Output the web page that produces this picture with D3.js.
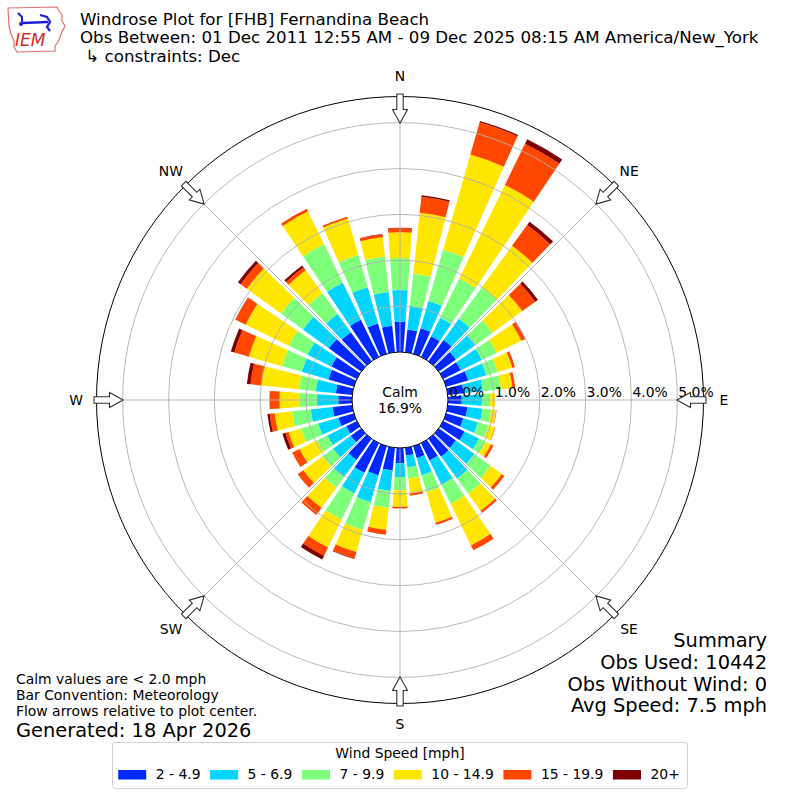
<!DOCTYPE html>
<html>
<head>
<meta charset="utf-8">
<script src="https://cdn.jsdelivr.net/npm/d3@7"></script>
<style>
  body { margin: 0; background: #fff; }
  text { font-family: "DejaVu Sans", sans-serif; }
</style>
</head>
<body>
<div id="chart"></div>
<script>
// Windrose for FHB, December obs
const directions = [0, 10, 20, 30, 40, 50, 60, 70, 80, 90, 100, 110, 120, 130, 140, 150, 160, 170,
    180, 190, 200, 210, 220, 230, 240, 250, 260, 270, 280, 290, 300, 310, 320, 330, 340, 350];
const speedBins = ["2 - 4.9", "5 - 6.9", "7 - 9.9", "10 - 14.9", "15 - 19.9", "20+"];
const binColors = ["#0028ff", "#00d4ff", "#7dff7a", "#ffe600", "#ff4700", "#7f0000"];

// percent of obs per direction, one array per speed bin
const speed2to5 = [0.66, 0.50, 0.58, 0.50, 0.57, 0.46, 0.43, 0.50, 0.35, 0.30, 0.43, 0.39, 0.52, 0.46, 0.48, 0.42, 0.27, 0.17,
    0.33, 0.50, 0.66, 0.72, 0.57, 0.28, 0.26, 0.35, 0.43, 0.30, 0.36, 0.58, 0.62, 0.87, 0.78, 0.90, 0.69, 0.58];
const speed5to7 = [0.69, 0.52, 0.62, 0.45, 0.57, 0.52, 0.51, 0.41, 0.42, 0.44, 0.33, 0.33, 0.35, 0.50, 0.59, 0.59, 0.39, 0.26,
    0.30, 0.45, 0.61, 0.50, 0.46, 0.48, 0.46, 0.46, 0.48, 0.47, 0.44, 0.60, 0.58, 0.70, 0.49, 0.90, 0.82, 0.74];
const speed7to10 = [0.70, 0.70, 1.16, 0.95, 0.85, 0.47, 0.36, 0.26, 0.40, 0.18, 0.19, 0.24, 0.16, 0.44, 0.41, 0.46, 0.38, 0.24,
    0.29, 0.37, 0.63, 0.63, 0.28, 0.28, 0.25, 0.39, 0.41, 0.37, 0.37, 0.45, 0.45, 0.59, 0.56, 0.93, 0.73, 0.78];
const speed10to15 = [0.56, 1.34, 2.16, 2.27, 1.12, 0.80, 0.60, 0.33, 0.25, 0.11, 0.11, 0.15, 0.13, 0.30, 0.46, 1.01, 0.70, 0.33,
    0.36, 0.48, 0.50, 0.68, 0.55, 0.52, 0.42, 0.28, 0.38, 0.44, 0.82, 0.75, 1.05, 0.92, 0.62, 0.80, 0.83, 0.42];
const speed15to20 = [0.09, 0.35, 0.73, 1.00, 0.56, 0.35, 0.08, 0.06, 0.06, 0.00, 0.01, 0.01, 0.06, 0.07, 0.05, 0.12, 0.05, 0.05,
    0.04, 0.11, 0.15, 0.20, 0.19, 0.15, 0.18, 0.07, 0.11, 0.22, 0.24, 0.33, 0.24, 0.17, 0.08, 0.06, 0.04, 0.06];
const speed20plus = [0.01, 0.03, 0.03, 0.11, 0.09, 0.07, 0.01, 0.00, 0.00, 0.00, 0.00, 0.00, 0.00, 0.00, 0.00, 0.00, 0.00, 0.00,
    0.00, 0.00, 0.01, 0.09, 0.00, 0.00, 0.00, 0.07, 0.05, 0.00, 0.08, 0.08, 0.01, 0.07, 0.05, 0.00, 0.00, 0.01];

const ringTicks = [0, 1, 2, 3, 4, 5];
const compassAngles = [0, 45, 90, 135, 180, 225, 270, 315];
const compassLabels = ["N", "NE", "E", "SE", "S", "SW", "W", "NW"];

const titleLines = [
    "Windrose Plot for [FHB] Fernandina Beach",
    "Obs Between: 01 Dec 2011 12:55 AM - 09 Dec 2025 08:15 AM America/New_York",
    " \u21b3 constraints: Dec"
];
const footLines = ["Calm values are < 2.0 mph", "Bar Convention: Meteorology", "Flow arrows relative to plot center."];
const summaryLines = ["Summary", "Obs Used: 10442", "Obs Without Wind: 0", "Avg Speed: 7.5 mph"];
const calmPct = 16.9;

const width = 800, height = 800;
const cx = 400, cy = 400;
const calmR = 48, outerR = 303.5;
const barHalf = 4; // degrees

const svg = d3.select("#chart")
    .append("svg")
    .attr("width", width)
    .attr("height", height);

const g = svg.append("g").attr("transform", `translate(${cx},${cy})`);

const r = d3.scaleLinear()
    .domain([0, 5.57])
    .range([calmR, outerR]);

const series = [speed2to5, speed5to7, speed7to10, speed10to15, speed15to20, speed20plus];
const table = directions.map((dir, i) => {
    const row = { dir };
    speedBins.forEach((b, j) => { row[b] = series[j][i]; });
    return row;
});

const stacked = d3.stack().keys(speedBins)(table);

const arc = d3.arc()
    .innerRadius(d => r(d[0]))
    .outerRadius(d => r(d[1]))
    .startAngle(d => (d.data.dir - barHalf) * Math.PI / 180)
    .endAngle(d => (d.data.dir + barHalf) * Math.PI / 180);

g.selectAll("g.bin")
    .data(stacked)
    .enter()
    .append("g")
    .attr("class", "bin")
    .attr("fill", (d, i) => binColors[i])
    .selectAll("path")
    .data(d => d.filter(s => s[1] - s[0] > 0))
    .enter()
    .append("path")
    .attr("d", arc);

// grid on top of the bars
g.selectAll(".ring")
    .data(ringTicks.slice(1))
    .enter()
    .append("circle")
    .attr("class", "ring")
    .attr("r", d => r(d))
    .attr("fill", "none")
    .attr("stroke", "#b0b0b0")
    .attr("stroke-width", 0.9);

g.selectAll(".spoke")
    .data(compassAngles)
    .enter()
    .append("line")
    .attr("class", "spoke")
    .attr("x1", 0).attr("y1", 0)
    .attr("x2", d => outerR * Math.sin(d * Math.PI / 180))
    .attr("y2", d => -outerR * Math.cos(d * Math.PI / 180))
    .attr("stroke", "#b0b0b0")
    .attr("stroke-width", 0.9);

g.append("circle")
    .attr("r", outerR)
    .attr("fill", "none")
    .attr("stroke", "#000")
    .attr("stroke-width", 1);

g.append("circle")
    .attr("r", calmR)
    .attr("fill", "#fff")
    .attr("stroke", "#000")
    .attr("stroke-width", 1);

g.append("text")
    .attr("x", 0).attr("y", -3)
    .attr("text-anchor", "middle")
    .attr("font-size", 13.9)
    .text("Calm");
g.append("text")
    .attr("x", 0).attr("y", 13)
    .attr("text-anchor", "middle")
    .attr("font-size", 13.9)
    .text(calmPct.toFixed(1) + "%");

g.selectAll(".rlabel")
    .data(ringTicks)
    .enter()
    .append("text")
    .attr("class", "rlabel")
    .attr("x", d => r(d) + 1)
    .attr("y", -3)
    .attr("font-size", 13.9)
    .text(d => d3.format(".1f")(d) + "%");

g.selectAll(".dirlabel")
    .data(compassAngles)
    .enter()
    .append("text")
    .attr("class", "dirlabel")
    .attr("x", d => 324 * Math.sin(d * Math.PI / 180))
    .attr("y", d => -324 * Math.cos(d * Math.PI / 180))
    .attr("text-anchor", "middle")
    .attr("dominant-baseline", "central")
    .attr("font-size", 13.9)
    .text((d, i) => compassLabels[i]);

// hollow flow arrows pointing toward the center
const arrowPath = "M0,-277 L-7.5,-290.5 L-3.2,-290.5 L-3.2,-306 L3.2,-306 L3.2,-290.5 L7.5,-290.5 Z";
g.selectAll(".arrow")
    .data(compassAngles)
    .enter()
    .append("path")
    .attr("class", "arrow")
    .attr("d", arrowPath)
    .attr("transform", d => `rotate(${d})`)
    .attr("fill", "#fff")
    .attr("stroke", "#333")
    .attr("stroke-width", 1.1)
    .attr("stroke-linejoin", "miter");

// titles
svg.selectAll(".title")
    .data(titleLines)
    .enter()
    .append("text")
    .attr("class", "title")
    .attr("x", 80)
    .attr("y", (d, i) => 25 + i * 18.3)
    .attr("font-size", 16.67)
    .attr("xml:space", "preserve")
    .style("white-space", "pre")
    .text(d => d);

// IEM logo, rough
const logo = svg.append("g").attr("class", "logo");
logo.append("path")
    .attr("d", "M8,8 L57,7 L59,11 L62,15 L62,21 L65,26 L62,32 L60,37 L58,42 L55,46 L55,51 L17,52 L14,47 L14,41 L11,34 L9,26 Z")
    .attr("fill", "none")
    .attr("stroke", "#e07070")
    .attr("stroke-width", 1.2);
logo.append("line")
    .attr("x1", 22).attr("y1", 23).attr("x2", 48).attr("y2", 22)
    .attr("stroke", "#1f1fd8").attr("stroke-width", 2.5);
logo.append("path")
    .attr("d", "M18,13 L22,17 L22,22")
    .attr("fill", "none").attr("stroke", "#1f1fd8").attr("stroke-width", 2);
logo.append("circle").attr("cx", 21).attr("cy", 24).attr("r", 2).attr("fill", "#1f1fd8");
logo.append("path")
    .attr("d", "M40,15 L47,17 L50,22 L47,27 L50,31")
    .attr("fill", "none").attr("stroke", "#1f1fd8").attr("stroke-width", 2.2);
logo.append("text")
    .attr("x", 15).attr("y", 46)
    .attr("font-family", "Liberation Serif, serif")
    .attr("font-style", "italic")
    .attr("font-size", 17)
    .attr("fill", "#d42a2a")
    .text("IEM");

// footer notes
svg.selectAll(".foot")
    .data(footLines)
    .enter()
    .append("text")
    .attr("class", "foot")
    .attr("x", 16)
    .attr("y", (d, i) => 684 + i * 16)
    .attr("font-size", 13.9)
    .text(d => d);

svg.append("text")
    .attr("x", 16)
    .attr("y", 737)
    .attr("font-size", 19.4)
    .text("Generated: 18 Apr 2026");

svg.selectAll(".summary")
    .data(summaryLines)
    .enter()
    .append("text")
    .attr("class", "summary")
    .attr("x", 767)
    .attr("y", (d, i) => 647 + i * 21.8)
    .attr("text-anchor", "end")
    .attr("font-size", 19.4)
    .text(d => d);

// legend
const legend = svg.append("g").attr("class", "legend");
legend.append("rect")
    .attr("x", 112.5).attr("y", 742.5)
    .attr("width", 575).attr("height", 46)
    .attr("rx", 3)
    .attr("fill", "#fff")
    .attr("stroke", "#d0d0d0");

legend.append("text")
    .attr("x", 400).attr("y", 758)
    .attr("text-anchor", "middle")
    .attr("font-size", 13.9)
    .text("Wind Speed [mph]");

const items = legend.append("g");
const itemGap = 9.6;
let xpos = 0;
speedBins.forEach((b, i) => {
    const it = items.append("g").attr("transform", `translate(${xpos},0)`);
    it.append("rect")
        .attr("x", 0).attr("y", 770)
        .attr("width", 28).attr("height", 9.5)
        .attr("fill", binColors[i]);
    const t = it.append("text")
        .attr("x", 37.5).attr("y", 779)
        .attr("font-size", 13.9)
        .text(b);
    xpos += 37.5 + t.node().getComputedTextLength() + itemGap;
});
const itemsWidth = xpos - itemGap;
items.attr("transform", `translate(${399 - itemsWidth / 2},0)`);
</script>
</body>
</html>
